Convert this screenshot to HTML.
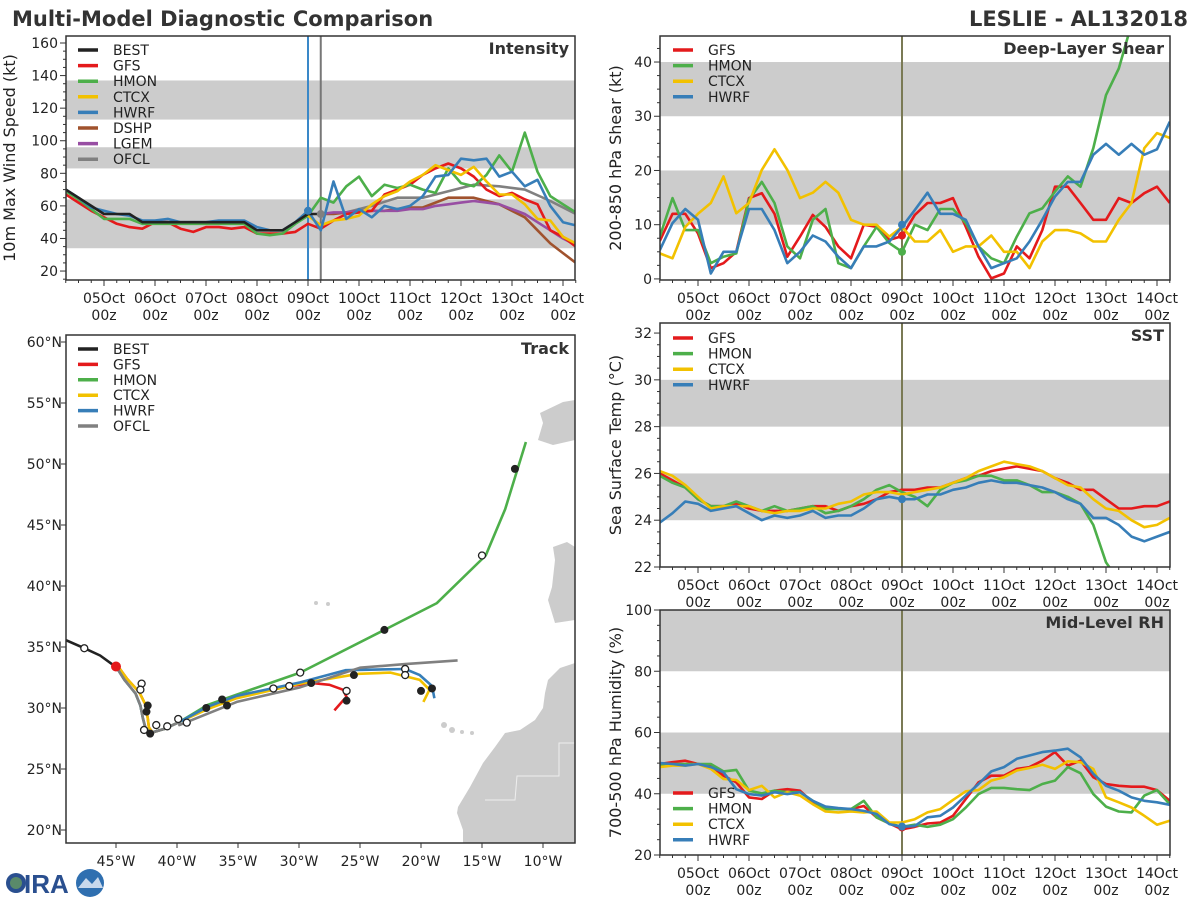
<!DOCTYPE html>
<html><head><meta charset="utf-8">
<style>
html,body{margin:0;padding:0;background:#fff;}
svg{display:block;font-family:"DejaVu Sans","Liberation Sans",sans-serif;}
</style></head>
<body>
<svg id="root" width="1200" height="900" viewBox="0 0 1200 900" xmlns="http://www.w3.org/2000/svg">
<text x="12" y="26" font-size="21" font-weight="bold" fill="#333">Multi-Model Diagnostic Comparison</text>
<text x="1188" y="26" font-size="21" font-weight="bold" fill="#333" text-anchor="end">LESLIE - AL132018</text>
<g>
<circle cx="16" cy="883" r="10" fill="#2a4f8f"/><circle cx="16" cy="883" r="6" fill="#5a8a6a"/>
<text x="24" y="893" font-size="26" font-weight="bold" fill="#2a4f8f" font-family="Liberation Sans, sans-serif">IRA</text>
<circle cx="90" cy="883" r="14" fill="#2f6fb0"/><path d="M78 888 L86 878 L92 884 L98 877 L103 888 Z" fill="#c8d8ec"/>
</g>
</svg>
<script>
// ---------- DATA ----------
const dayLabels = ["05Oct","06Oct","07Oct","08Oct","09Oct","10Oct","11Oct","12Oct","13Oct","14Oct"];
const stepDays = 0.25; const startDay = -0.75;
// Intensity (kt)
const intBEST = [70,65,60,55,55,55,50,50,50,50,50,50,50,50,50,45,45,45,50,55,55];
const intGFS  = [67,62,57,53,49,47,46,50,50,46,44,47,47,46,47,43,43,43,44,49,46,51,55,56,57,67,70,73,79,83,86,83,78,70,66,68,64,61,45,41,35];
const intHMON = [69,64,58,52,52,52,49,49,49,49,49,49,49,49,49,43,42,43,49,54,65,62,72,78,66,73,71,73,70,68,83,74,72,79,91,81,105,81,66,61,56];
const intCTCX = [null,null,null,null,null,null,null,null,null,null,null,null,null,null,null,null,null,null,null,54,48,51,52,54,61,66,69,75,79,85,82,79,84,75,67,67,61,52,51,41,37];
const intHWRF = [70,65,59,57,55,54,51,51,52,50,50,50,51,51,51,47,45,45,50,57,45,75,52,58,53,60,58,60,66,78,79,89,88,89,78,81,72,76,60,50,48];
const intDSHP = [null,null,null,null,null,null,null,null,null,null,null,null,null,null,null,null,null,null,null,null,55,55,56,57,57,57,58,59,59,62,65,65,65,63,61,57,53,45,37,31,25];
const intLGEM = [null,null,null,null,null,null,null,null,null,null,null,null,null,null,null,null,null,null,null,null,55,56,56,57,57,57,57,58,58,60,61,62,63,62,61,58,55,50,45,40,36];
const intOFCL = [null,null,null,null,null,null,null,null,null,null,null,null,null,null,null,null,null,null,null,null,55,null,56,null,60,null,65,null,65,null,69,null,73,null,72,null,70,null,63,null,55];
// Shear (kt)
const shGFS  = [7,12,12,8.4,2,2.9,5,14.9,15.8,12,4.1,7.8,11.8,9.6,6,3.8,10,9.6,7.2,7.9,11.8,14,14,14.9,9.6,4.1,0.1,1,6,3.8,9,17,17,14,10.9,10.9,14.9,14,15.8,17,14];
const shHMON = [7.8,14.9,9,9,2.9,4.1,4.7,14.6,17.9,14,6,3.8,10.9,12.9,2.9,2,6,9.6,6.6,5,10,9,12.9,12.9,10.3,6,3.8,2.9,7.8,12.1,13,16.1,18.9,17,24.1,33.9,38.8,47,52,55,58];
const shCTCX = [4.7,3.8,9.6,12,14,18.9,12.1,14,20.1,23.9,20.1,14.9,15.9,17.9,15.9,10.9,10,10,7.8,9.6,6.9,6.9,9,5,6,6,8,5,5,2,6.9,9,9,8.4,6.9,6.9,10.9,14,24.1,26.9,26];
const shHWRF = [5.3,10.3,12.9,10.9,1,5,5,12.9,12.9,9,2.9,5,8,6.9,4.1,2,6,6,6.9,9.6,12.7,15.9,12,12,10.9,6,2,2.9,3.8,6.9,10.9,15.2,17.9,17.9,22.9,24.9,22.9,24.9,22.9,23.9,29];
// SST (C)
const sstGFS  = [26,25.7,25.4,24.9,24.6,24.6,24.7,24.5,24.4,24.4,24.4,24.5,24.6,24.6,24.4,24.6,24.7,24.9,25.2,25.3,25.3,25.4,25.4,25.6,25.8,25.9,26.1,26.2,26.3,26.2,26.1,25.8,25.6,25.3,25.3,24.9,24.5,24.5,24.6,24.6,24.8];
const sstHMON = [25.9,25.6,25.4,24.9,24.6,24.6,24.8,24.6,24.4,24.6,24.4,24.5,24.6,24.3,24.4,24.6,24.9,25.3,25.5,25.2,25,24.6,25.3,25.6,25.7,25.9,25.9,25.7,25.7,25.5,25.2,25.2,25,24.7,23.8,22.2,21.4,21,21,21,21];
const sstCTCX = [26.1,25.9,25.5,25,24.5,24.6,24.6,24.6,24.4,24.3,24.4,24.4,24.5,24.5,24.7,24.8,25.1,25.2,25.2,25.1,25.2,25.3,25.4,25.6,25.8,26.1,26.3,26.5,26.4,26.3,26.1,25.8,25.5,25.4,24.9,24.5,24.4,24,23.7,23.8,24.1];
const sstHWRF = [23.9,24.3,24.8,24.7,24.4,24.5,24.6,24.3,24,24.2,24.1,24.2,24.4,24.1,24.2,24.2,24.5,24.9,25,24.9,24.9,25.1,25.1,25.3,25.4,25.6,25.7,25.6,25.6,25.5,25.4,25.2,24.9,24.7,24.1,24.1,23.8,23.3,23.1,23.3,23.5];
// RH (%)
const rhGFS  = [49.7,50.3,50.8,49.7,49.2,45.9,43.7,38.8,38.3,41,41.5,41,37.2,35.5,35,35,36,32.3,30.3,28.4,29.2,30.3,30.6,32.8,38.3,43.7,45.9,45.9,48.1,48.7,50.8,53.6,49.2,50.8,45.4,43.2,42.6,42.3,42.3,41.2,37.7];
const rhHMON = [49.2,49.7,49.7,49.7,49.7,47.3,47.8,41,40.1,41,40.5,40.5,37.7,35,35,35,37.7,32.3,30.3,29.2,29.9,29.2,29.9,31.7,35.5,39.9,41.9,41.9,41.5,41.2,43.2,44.3,48.7,46.7,39.9,35.8,34.2,33.9,39.4,41.2,36.6];
const rhCTCX = [48.7,49.2,49.2,49.7,48.1,44.8,44.5,41.2,42.6,38.8,40.5,39.4,36.6,34.2,33.9,34.2,33.9,34.2,30.6,30.6,31.7,33.9,35,38,40.8,41.2,44.3,45.4,47.6,48.4,49.5,48.1,50.6,50.3,48.1,38.8,37.2,35.5,32.8,29.9,31.2];
const rhHWRF = [50,49.7,49.2,49.7,48.7,47,41.5,39.9,39.4,40.5,39.9,40.5,37.7,35.8,35.3,35,34.4,33.4,30.1,29.2,29.5,32.3,32.8,35.5,39.4,43.2,47.3,48.7,51.4,52.5,53.6,54.1,54.7,51.9,46.5,42.6,41,38.8,37.7,37.2,36.4];
// Tracks [lonW, latN]
const trkBEST = [[49.2,35.6],[47.6,34.9],[46.3,34.3],[45.2,33.5]];
const trkCommon = [[45.0,33.4],[44.3,32.3],[43.4,31.2],[43.0,30.2],[42.8,29.2],[42.6,28.4],[42.2,27.95],[41.0,28.3],[39.8,28.85]];
const trkCommonE = [[44.9,33.5],[44.1,32.4],[43.1,31.3],[42.6,30.3],[42.4,29.2],[42.3,28.4],[42.0,28.0],[41.0,28.3],[39.8,28.85]];
const trkGFS  = [[37.5,30.1],[35.1,30.9],[32.0,31.6],[29.0,32.05],[27.5,31.9],[26.4,31.5],[26.1,30.9],[26.4,30.6],[27.1,29.8]];
const trkHMON = [[37.5,30.25],[35.1,31.1],[29.9,32.9],[23.0,36.4],[18.7,38.6],[14.7,42.5],[13.1,46.3],[11.4,51.8]];
const trkCTCX = [[37.5,29.9],[35.1,30.8],[29.9,32.0],[25.1,32.8],[22.5,32.9],[20.1,32.3],[19.3,31.5],[19.8,30.5]];
const trkHWRF = [[37.5,30.1],[35.1,31.0],[29.9,32.1],[26.2,33.1],[21.3,33.2],[20.1,32.7],[19.1,31.8],[18.9,30.8]];
const trkOFCL = [[39.8,28.6],[35.1,30.5],[29.9,31.7],[25.0,33.3],[21.3,33.6],[17.0,33.9]];
const dotsFilled = [[42.2,27.9],[42.5,29.7],[42.4,30.2],[37.6,30.0],[36.3,30.7],[35.9,30.2],[29.0,32.05],[26.1,30.6],[25.5,32.7],[23.0,36.4],[20.0,31.4],[19.1,31.6],[12.3,49.6]];
const dotsOpen = [[47.6,34.9],[42.9,32.0],[43.0,31.5],[42.7,28.2],[41.7,28.6],[40.8,28.5],[39.9,29.1],[39.2,28.8],[32.1,31.6],[30.8,31.8],[26.1,31.4],[21.3,33.2],[21.3,32.7],[29.9,32.9],[15.0,42.5]];

// ---------- HELPERS ----------
const NS="http://www.w3.org/2000/svg";
const root=document.getElementById('root');
function mk(tag,attrs,parent){const e=document.createElementNS(NS,tag);for(const k in attrs)e.setAttribute(k,attrs[k]);(parent||root).appendChild(e);return e;}
const C={BEST:"#222222",GFS:"#e41a1c",HMON:"#4daf4a",CTCX:"#f2c100",HWRF:"#377eb8",DSHP:"#a0522d",LGEM:"#984ea3",OFCL:"#808080"};
let clipN=0;

function panel(cfg){
  const g=mk('g',{});
  
  
  const X=t=>cfg.x05+51*t;
  const Y=v=>cfg.y1-(v-cfg.ymin)/(cfg.ymax-cfg.ymin)*(cfg.y1-cfg.y0);
  const id='clip'+(clipN++);
  const cp=mk('clipPath',{id:id},g);mk('rect',{x:cfg.x0,y:cfg.y0,width:cfg.x1-cfg.x0,height:cfg.y1-cfg.y0},cp);
  cfg.bands.forEach(b=>{const r=mk('rect',{x:cfg.x0,y:Y(b[1]),width:cfg.x1-cfg.x0,height:Y(b[0])-Y(b[1]),fill:"#cccccc",'clip-path':`url(#${id})`},g);
    
    });
  cfg.vlines.forEach(v=>{const l=mk('line',{x1:X(v[0]),x2:X(v[0]),y1:cfg.y0,y2:cfg.y1,stroke:v[1],'stroke-width':2},g);
    
    });
  cfg.series.forEach(s=>{
    const pts=[];s.vals.forEach((v,i)=>{if(v!==null)pts.push(X(startDay+i*stepDays).toFixed(1)+','+Y(v).toFixed(1));});
    const p=mk('polyline',{points:pts.join(' '),fill:"none",stroke:C[s.k],'stroke-width':2.6,'stroke-linejoin':'round','clip-path':`url(#${id})`},g);
    
    
  });
  cfg.dots.forEach(d=>{const c=mk('circle',{cx:X(d[0]),cy:Y(d[1]),r:4,fill:C[d[2]]},g);
    
    });
  mk('rect',{x:cfg.x0,y:cfg.y0,width:cfg.x1-cfg.x0,height:cfg.y1-cfg.y0,fill:"none",stroke:"#333",'stroke-width':1.5},g);
  for(let t=-0.75;t<=9.25+1e-6;t+=0.25){const x=X(t);const major=Math.abs(t-Math.round(t))<1e-6;
    mk('line',{x1:x,x2:x,y1:cfg.y1,y2:cfg.y1+(major?6:3),stroke:"#333",'stroke-width':1},g);}
  dayLabels.forEach((d,i)=>{const x=X(i);
    const a=mk('text',{x:x,y:cfg.y1+23,'font-size':14,'text-anchor':'middle',fill:"#222"},g);a.textContent=d;
    
    
    const b=mk('text',{x:x,y:cfg.y1+40,'font-size':14,'text-anchor':'middle',fill:"#222"},g);b.textContent="00z";
    
    });
  for(let v=Math.ceil(cfg.ymin/cfg.minor)*cfg.minor;v<=cfg.ymax+1e-6;v+=cfg.minor){const y=Y(v);
    const major=Math.abs(v/cfg.major-Math.round(v/cfg.major))<1e-6;
    mk('line',{x1:cfg.x0-(major?6:3),x2:cfg.x0,y1:y,y2:y,stroke:"#333",'stroke-width':1},g);
    if(major){const t=mk('text',{x:cfg.x0-8,y:y+5,'font-size':14,'text-anchor':'end',fill:"#222"},g);t.textContent=Math.round(v);
      
      }}
  const yl=mk('text',{x:0,y:0,'font-size':16,'text-anchor':'middle',fill:"#222",transform:`translate(${cfg.ylx},${(cfg.y0+cfg.y1)/2}) rotate(-90)`},g);
  yl.textContent=cfg.ylabel;
  
  
  const ti=mk('text',{x:cfg.x1-6,y:cfg.y0+18,'font-size':16,'font-weight':'bold','text-anchor':'end',fill:"#333"},g);ti.textContent=cfg.title;
  
  
  legend(g,cfg.legX,cfg.legY,cfg.legSp,cfg.legend);
}
function legend(g,x,y,sp,keys){
  keys.forEach((k,i)=>{const yy=y+i*sp;
    const l=mk('line',{x1:x,x2:x+20,y1:yy,y2:yy,stroke:C[k],'stroke-width':3.5},g);
    
    
    const t=mk('text',{x:x+35,y:yy+5,'font-size':14,fill:"#222"},g);t.textContent=k;
    
    });
}
const vcol="#7a7a55";
panel({name:'intensity-panel',x0:66,x1:575,y0:36,y1:280,x05:104,ymin:14.5,ymax:164.3,major:20,minor:5,
  bands:[[34,64],[83,96],[113,137]],vlines:[[4,"#3a88c8"],[4.25,"#777"]],
  series:[{k:'OFCL',vals:intOFCL},{k:'DSHP',vals:intDSHP},{k:'LGEM',vals:intLGEM},{k:'GFS',vals:intGFS},{k:'HMON',vals:intHMON},{k:'CTCX',vals:intCTCX},{k:'HWRF',vals:intHWRF},{k:'BEST',vals:intBEST}],
  dots:[[4,57,'HWRF'],[4.25,55,'OFCL']],ylabel:"10m Max Wind Speed (kt)",ylx:15,title:"Intensity",
  legX:78,legY:50,legSp:15.6,legend:['BEST','GFS','HMON','CTCX','HWRF','DSHP','LGEM','OFCL']});
panel({name:'shear-panel',x0:660,x1:1170,y0:36,y1:280,x05:698,ymin:-0.2,ymax:44.8,major:10,minor:2.5,
  bands:[[10,20],[30,40]],vlines:[[4,vcol]],
  series:[{k:'GFS',vals:shGFS},{k:'HMON',vals:shHMON},{k:'CTCX',vals:shCTCX},{k:'HWRF',vals:shHWRF}],
  dots:[[4,8,'GFS'],[4,5,'HMON'],[4,10,'HWRF']],ylabel:"200-850 hPa Shear (kt)",ylx:621,title:"Deep-Layer Shear",
  legX:673,legY:50,legSp:15.6,legend:['GFS','HMON','CTCX','HWRF']});
panel({name:'sst-panel',x0:660,x1:1170,y0:323,y1:567,x05:698,ymin:22,ymax:32.43,major:2,minor:0.5,
  bands:[[24,26],[28,30]],vlines:[[4,vcol]],
  series:[{k:'GFS',vals:sstGFS},{k:'HMON',vals:sstHMON},{k:'CTCX',vals:sstCTCX},{k:'HWRF',vals:sstHWRF}],
  dots:[[4,24.9,'HWRF']],ylabel:"Sea Surface Temp (°C)",ylx:621,title:"SST",
  legX:673,legY:338,legSp:15.6,legend:['GFS','HMON','CTCX','HWRF']});
panel({name:'rh-panel',x0:660,x1:1170,y0:610,y1:855,x05:698,ymin:20,ymax:100,major:20,minor:5,
  bands:[[40,60],[80,100]],vlines:[[4,vcol]],
  series:[{k:'GFS',vals:rhGFS},{k:'HMON',vals:rhHMON},{k:'CTCX',vals:rhCTCX},{k:'HWRF',vals:rhHWRF}],
  dots:[[4,29,'GFS'],[4,29.3,'HWRF']],ylabel:"700-500 hPa Humidity (%)",ylx:621,title:"Mid-Level RH",
  legX:673,legY:793,legSp:15.6,legend:['GFS','HMON','CTCX','HWRF']});

// ---------- TRACK MAP ----------
(function(){
  const g=mk('g',{});
  
  
  const x0=66,x1=575,y0=335,y1=843;
  const LX=w=>116+(45-w)*12.2, LY=n=>830-(n-20)*12.2;
  const cp=mk('clipPath',{id:'mapclip'},g);mk('rect',{x:x0,y:y0,width:x1-x0,height:y1-y0},cp);
  const land=[
    "575,663 560,668 548,680 545,693 543,708 535,720 520,730 505,733 495,747 483,763 470,787 458,807 457,813 463,830 463,843 575,843",
    "553,547 567,542 575,547 575,620 555,623 548,600 552,587 555,560",
    "540,413 563,402 575,400 575,440 553,445 538,440 543,423"];
  land.forEach(p=>{const e=mk('polygon',{points:p,fill:"#cccccc",'clip-path':'url(#mapclip)'},g);
    
    });
  [[444,725,3],[452,730,3],[462,732,2],[472,733,2],[316,603,2],[328,604,2]].forEach(s=>{const e=mk('circle',{cx:s[0],cy:s[1],r:s[2],fill:"#cccccc"},g);
    
    });
  mk('polyline',{points:"575,743 559,743 559,776 517,776 515,800 485,800",fill:"none",stroke:"#eee",'stroke-width':1},g);
  function trk(arrs,k){const pts=[];arrs.forEach(a=>a.forEach(p=>pts.push(LX(p[0]).toFixed(1)+','+LY(p[1]).toFixed(1))));
    const e=mk('polyline',{points:pts.join(' '),fill:"none",stroke:C[k],'stroke-width':2.6,'stroke-linejoin':'round','clip-path':'url(#mapclip)'},g);
    
    }
  trk([trkCommonE,trkGFS],'GFS');trk([trkCommonE,trkCTCX],'CTCX');trk([trkCommon,trkHMON],'HMON');
  trk([trkCommon,trkHWRF],'HWRF');trk([trkCommon,trkOFCL],'OFCL');trk([trkBEST],'BEST');
  const s=mk('circle',{cx:LX(45.0),cy:LY(33.4),r:5,fill:C.GFS},g);
  
  
  dotsFilled.forEach(p=>{const e=mk('circle',{cx:LX(p[0]),cy:LY(p[1]),r:4,fill:"#222"},g);
    
    });
  dotsOpen.forEach(p=>{const e=mk('circle',{cx:LX(p[0]),cy:LY(p[1]),r:3.5,fill:"#fff",stroke:"#222",'stroke-width':1.3},g);
    
    });
  mk('rect',{x:x0,y:y0,width:x1-x0,height:y1-y0,fill:"none",stroke:"#333",'stroke-width':1.5},g);
  for(let w=45;w>=10;w-=5){const x=LX(w);mk('line',{x1:x,x2:x,y1:y1,y2:y1+5,stroke:"#333"},g);
    const t=mk('text',{x:x,y:y1+23,'font-size':14,'text-anchor':'middle',fill:"#222"},g);t.textContent=w+"°W";
    
    }
  for(let n=20;n<=60;n+=5){const y=LY(n);mk('line',{x1:x0-5,x2:x0,y1:y,y2:y,stroke:"#333"},g);
    const t=mk('text',{x:x0-4,y:y+5,'font-size':14,'text-anchor':'end',fill:"#222"},g);t.textContent=n+"°N";
    
    }
  const ti=mk('text',{x:x1-6,y:y0+19,'font-size':16,'font-weight':'bold','text-anchor':'end',fill:"#333"},g);ti.textContent="Track";
  
  
  legend(g,78,349,15.4,['BEST','GFS','HMON','CTCX','HWRF','OFCL']);
})();
</script>
</body></html>
